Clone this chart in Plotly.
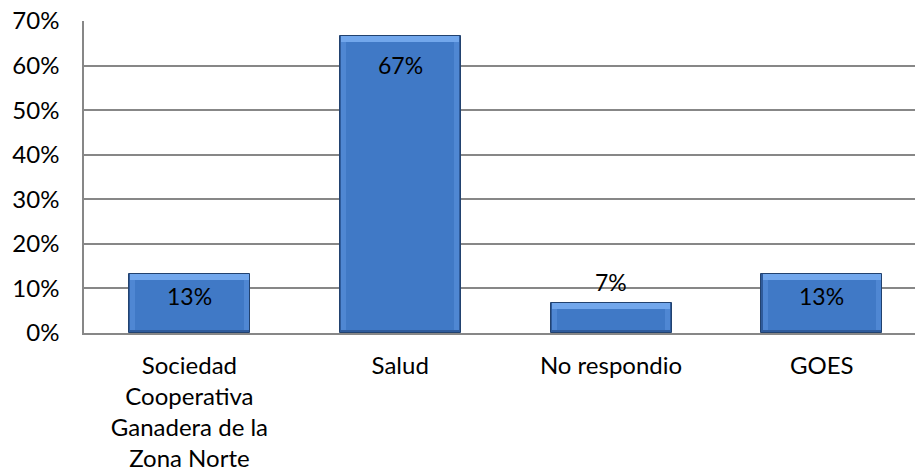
import plotly.graph_objects as go

# Survey answers and their shares
categories = ["Sociedad Cooperativa Ganadera de la Zona Norte", "Salud", "No respondio", "GOES"]
tick_labels = ["Sociedad<br>Cooperativa<br>Ganadera de la<br>Zona Norte", "Salud", "No respondio", "GOES"]
shares = [0.133, 0.667, 0.067, 0.133]
y_ticks = [0, 0.1, 0.2, 0.3, 0.4, 0.5, 0.6, 0.7]

# value-label vertical offsets (px) relative to the bar top
label_shift = [-22, -29, 21, -22]

FONT = "Lato"
FSIZE = 24
GRID = "#878787"
BAR_W = 0.574
BEVEL_TOP = 0.014   # height of the light top bevel, in axis units
BEVEL_BOT = 0.007   # height of the dark bottom bevel
SIDE = 0.03         # side bevel width, in category units

fig = go.Figure()

# dark outer shell (bottom / right shading)
fig.add_trace(go.Bar(
    x=categories, y=shares, width=BAR_W,
    marker=dict(color="#2F5B9B", line=dict(color="#22426F", width=1)),
    hoverinfo="skip", showlegend=False,
))
# light top bevel strip
fig.add_trace(go.Bar(
    x=categories, y=[BEVEL_TOP] * len(shares), base=[v - BEVEL_TOP for v in shares],
    width=BAR_W - 0.012,
    marker=dict(color="#72A7EC", line=dict(width=0)),
    hoverinfo="skip", showlegend=False,
))
# side bevels
fig.add_trace(go.Bar(
    x=categories, y=[v - BEVEL_TOP - BEVEL_BOT for v in shares], base=[BEVEL_BOT] * len(shares),
    width=BAR_W - 0.012,
    marker=dict(color="#4F87D3", line=dict(width=0)),
    hoverinfo="skip", showlegend=False,
))
# bar body
fig.add_trace(go.Bar(
    x=categories, y=[v - BEVEL_TOP - BEVEL_BOT for v in shares], base=[BEVEL_BOT] * len(shares),
    width=BAR_W - 2 * SIDE,
    marker=dict(color="#4079C6", line=dict(width=0)),
    hoverinfo="skip", showlegend=False,
))

# value labels
for cat, v, dy in zip(categories, shares, label_shift):
    fig.add_annotation(
        x=cat, y=v, xref="x", yref="y", text=f"{v:.0%}", showarrow=False,
        yanchor="middle", yshift=dy, font=dict(family=FONT, size=FSIZE - 1, color="black"),
    )

fig.update_layout(
    width=915, height=476,
    margin=dict(l=84, r=0, t=21, b=143),
    paper_bgcolor="white", plot_bgcolor="white",
    barmode="overlay", bargap=0,
    font=dict(family=FONT, size=FSIZE, color="black"),
    showlegend=False,
)
fig.update_xaxes(
    range=[-0.5, 3.442], tickvals=categories, ticktext=tick_labels,
    showgrid=False, showline=True, linecolor=GRID, linewidth=1.5,
    ticks="", zeroline=False, ticklabelstandoff=10,
)
fig.update_yaxes(
    range=[0, 0.7], tickvals=y_ticks, tickformat=".0%",
    showgrid=True, gridcolor=GRID, gridwidth=1.5,
    showline=True, linecolor=GRID, linewidth=1.5,
    ticks="", zeroline=False, ticklabelstandoff=18,
)

fig.write_html("out.html")
